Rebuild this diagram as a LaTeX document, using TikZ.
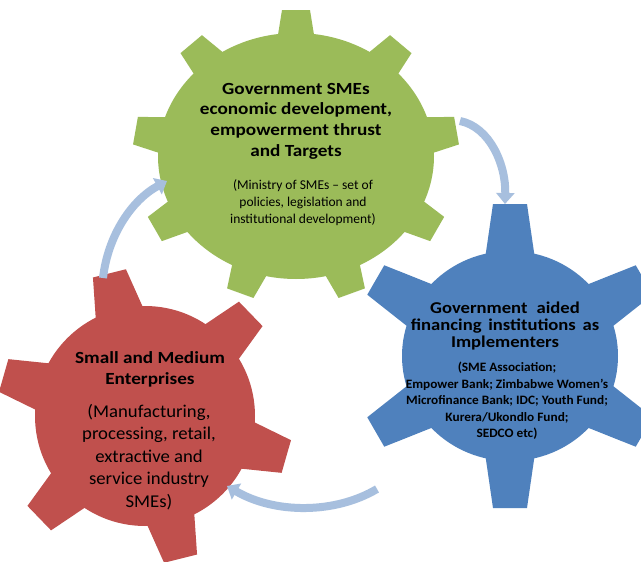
\documentclass[tikz,border=0pt]{standalone}
\usepackage{fontspec}
\setmainfont{Carlito}
\newfontfamily\titlefont[FakeStretch=1.13]{Carlito}
\newfontfamily\subfont[FakeStretch=1.04]{Carlito}
\usetikzlibrary{arrows.meta}
\definecolor{gearGreen}{RGB}{155,187,89}
\definecolor{gearBlue}{RGB}{79,129,189}
\definecolor{gearRed}{RGB}{192,80,77}
\definecolor{arrowBlue}{RGB}{167,191,222}
% #1 colour, #2 cx, #3 cy, #4 teeth, #5 start angle, #6 inner rx, #7 inner ry, #8 outer rx, #9 outer ry
\newcommand{\gearshape}[9]{%
  \fill[#1] (#2,#3) ellipse [x radius=#6, y radius=#7];
  \pgfmathsetmacro{\gstep}{360/#4}
  \foreach \k in {1,...,#4}{
    \pgfmathsetmacro{\ga}{#5+(\k-1)*\gstep}
    \fill[#1]
      ({#2+(#6-8)*cos(\ga)+\gwb*sin(\ga)},{#3-(#7-8)*sin(\ga)+\gwb*cos(\ga)}) --
      ({#2+#8*cos(\ga)+\gwt*sin(\ga)},{#3-#9*sin(\ga)+\gwt*cos(\ga)}) --
      ({#2+#8*cos(\ga)-\gwt*sin(\ga)},{#3-#9*sin(\ga)-\gwt*cos(\ga)}) --
      ({#2+(#6-8)*cos(\ga)-\gwb*sin(\ga)},{#3-(#7-8)*sin(\ga)-\gwb*cos(\ga)}) -- cycle;
  }%
}
\begin{document}
\begin{tikzpicture}[x=1pt,y=-1pt,
  arrowline/.style={draw=arrowBlue, line width=8pt, -{Triangle[width=18pt,length=11pt]}},
  blocktext/.style={align=center, inner sep=0pt, text=black}]
\useasboundingbox (0,0) rectangle (641,562);
\fill[white] (0,0) rectangle (641,562);

% arrows (free ends as coordinates)
\coordinate (a1s) at (103,278);
\coordinate (a1e) at (167,181);
\coordinate (a2s) at (460,121);
\coordinate (a2e) at (505,204);
\coordinate (a3s) at (377,489);
\coordinate (a3e) at (227,486);

% green gear
\def\gwb{19}\def\gwt{14}
\gearshape{gearGreen}{296}{156}{9}{90}{138}{123}{163}{146}
% blue gear
\def\gwb{25}\def\gwt{17}
\gearshape{gearBlue}{510}{356}{6}{90}{108}{105}{155}{152}
% red gear
\def\gwb{25}\def\gwt{17}
\gearshape{gearRed}{145}{416}{6}{104}{110}{110}{147}{147}

\draw[arrowline] (a1s) .. controls (108,235) and (132,200) .. (a1e);
\draw[arrowline] (a2s) .. controls (490,127) and (506,165) .. (a2e);
\draw[arrowline] (a3s) .. controls (335,514) and (275,514) .. (a3e);

% texts
\node[blocktext, font={\titlefont\fontsize{17}{20.6}\selectfont\bfseries}] (gtitle) at (296,121)
  {Government SMEs\\economic development,\\empowerment thrust\\and Targets};
\node[blocktext, font={\fontsize{13.5}{17}\selectfont}] (gsub) at (303,203)
  {(Ministry of SMEs -- set of\\policies, legislation and\\institutional development)};
\node[blocktext, font={\titlefont\fontsize{16.5}{17}\selectfont\bfseries}] (btitle) at (505,326)
  {Government\hspace{0.3em} aided\\financing\hspace{0.15em} institutions\hspace{0.15em} as\\Implementers};
\node[blocktext, font={\subfont\fontsize{12.8}{16.5}\selectfont\bfseries}] (bsub) at (507,401)
  {(SME Association;\\Empower Bank; Zimbabwe Women’s\\Microfinance Bank; IDC; Youth Fund;\\Kurera/Ukondlo Fund;\\SEDCO etc)};
\node[blocktext, font={\titlefont\fontsize{17}{21}\selectfont\bfseries}] (rtitle) at (150,369)
  {Small and Medium\\Enterprises};
\node[blocktext, font={\subfont\fontsize{18}{22.5}\selectfont}] (rsub) at (149,457)
  {(Manufacturing,\\processing, retail,\\extractive and\\service industry\\SMEs)};
\end{tikzpicture}
\end{document}
